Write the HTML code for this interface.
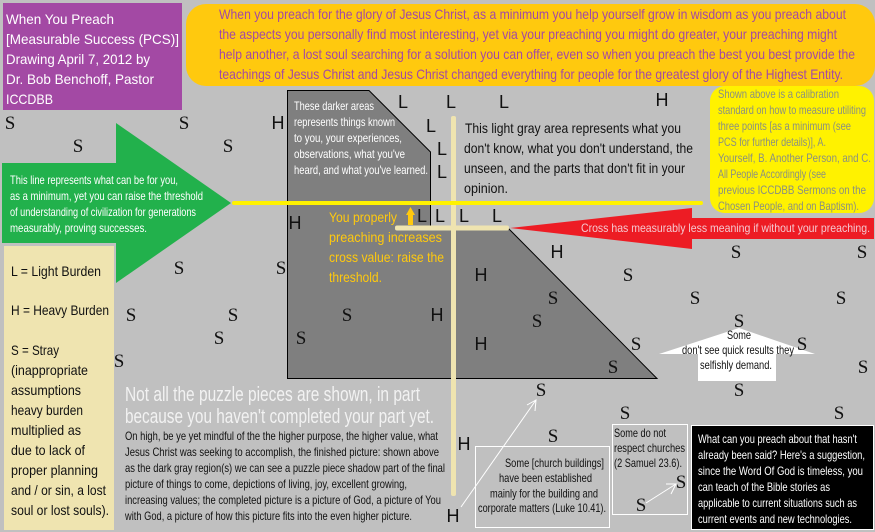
<!DOCTYPE html>
<html><head><meta charset="utf-8"><style>
html,body{margin:0;padding:0;background:#c0c0c0;width:875px;height:532px;overflow:hidden}
svg{display:block}
text{font-family:"Liberation Sans",sans-serif}
.s text{font-family:"Liberation Serif",serif;font-size:19px;fill:#111;text-anchor:middle}
.l text{font-size:18px;fill:#111;text-anchor:middle}
.t12{font-size:12px}.t14{font-size:14px}
</style></head><body>
<svg xmlns="http://www.w3.org/2000/svg" width="875" height="532" viewBox="0 0 875 532">
<rect width="875" height="532" fill="#c0c0c0"/>
<polygon points="287.5,90.5 369,90.5 430.5,152 430.5,228 508,228 657,378.5 287.5,378.5" fill="#7f7f7f" stroke="#000" stroke-width="1"/>
<rect x="3" y="3" width="179" height="107" fill="#a349a4"/>
<rect x="186" y="4" width="689" height="82" rx="20" fill="#ffc90e"/>
<rect x="710" y="86" width="164" height="127" rx="15" fill="#fff200"/>
<polygon points="2,163 116,163 116,123 231,203 116,283 116,243 2,243" fill="#22b14c"/>
<rect x="4" y="246" width="110" height="284" fill="#efe4b0"/>
<polygon points="510,228 692,208 692,218 874,218 874,239 692,239 692,249" fill="#ed1c24"/>
<rect x="451" y="116" width="5" height="380" rx="2" fill="#efe4b0"/>
<rect x="232" y="201" width="471" height="4" rx="2" fill="#fff200"/>
<rect x="395" y="225.500" width="114" height="5" rx="2" fill="#efe4b0"/>
<polygon points="410.500,207 415,215 413,215 413,225 408,225 408,215 406,215" fill="#ffc90e"/>
<polygon points="739,328 815,354 776,354 776,381 698,381 698,354 659,354" fill="#fff"/>
<rect x="475.500" y="446.500" width="134" height="81" fill="none" stroke="#fff"/>
<rect x="612.500" y="424.500" width="75" height="90" fill="none" stroke="#fff"/>
<rect x="691.500" y="425.500" width="182" height="104" fill="#000" stroke="#fff"/>
<g fill="none" stroke="#fff" stroke-width="1">
<path d="M461 507L536 400M527 405L536 400L535 411"/>
<path d="M646 503L676 484M666 484L676 484L671 494"/>
</g>

<g class="t14" fill="#fff">
<text x="6" y="24" textLength="108" lengthAdjust="spacingAndGlyphs">When You Preach</text>
<text x="6" y="44" textLength="173" lengthAdjust="spacingAndGlyphs">[Measurable Success (PCS)]</text>
<text x="6" y="64" textLength="144" lengthAdjust="spacingAndGlyphs">Drawing April 7, 2012 by</text>
<text x="6" y="84" textLength="148" lengthAdjust="spacingAndGlyphs">Dr. Bob Benchoff, Pastor</text>
<text x="6" y="104" textLength="47" lengthAdjust="spacingAndGlyphs">ICCDBB</text>
</g>
<g class="t14" fill="#a349a4">
<text x="219" y="19" textLength="627" lengthAdjust="spacingAndGlyphs">When you preach for the glory of Jesus Christ, as a minimum you help yourself grow in wisdom as you preach about</text>
<text x="219" y="39" textLength="618" lengthAdjust="spacingAndGlyphs">the aspects you personally find most interesting, yet via your preaching you might do greater, your preaching might</text>
<text x="219" y="59" textLength="636" lengthAdjust="spacingAndGlyphs">help another, a lost soul searching for a solution you can offer, even so when you preach the best you best provide the</text>
<text x="219" y="79" textLength="624" lengthAdjust="spacingAndGlyphs">teachings of Jesus Christ and Jesus Christ changed everything for people for the greatest glory of the Highest Entity.</text>
</g>
<g class="t12" fill="#fff">
<text x="294" y="110" textLength="80" lengthAdjust="spacingAndGlyphs">These darker areas</text>
<text x="294" y="126" textLength="101" lengthAdjust="spacingAndGlyphs">represents things known</text>
<text x="294" y="142" textLength="108" lengthAdjust="spacingAndGlyphs">to you, your experiences,</text>
<text x="294" y="158" textLength="111" lengthAdjust="spacingAndGlyphs">observations, what you've</text>
<text x="294" y="174" textLength="134" lengthAdjust="spacingAndGlyphs">heard, and what you've learned.</text>
<text x="10" y="184" textLength="168" lengthAdjust="spacingAndGlyphs">This line represents what can be for you,</text>
<text x="10" y="200" textLength="193" lengthAdjust="spacingAndGlyphs">as a minimum, yet you can raise the threshold</text>
<text x="10" y="216" textLength="186" lengthAdjust="spacingAndGlyphs">of understanding of civilization for generations</text>
<text x="10" y="232" textLength="137" lengthAdjust="spacingAndGlyphs">measurably, proving successes.</text>
<text x="698" y="443" textLength="159" lengthAdjust="spacingAndGlyphs">What can you preach about that hasn't</text>
<text x="698" y="459" textLength="167" lengthAdjust="spacingAndGlyphs">already been said? Here's a suggestion,</text>
<text x="698" y="475" textLength="165" lengthAdjust="spacingAndGlyphs">since the Word Of God is timeless, you</text>
<text x="698" y="491" textLength="132" lengthAdjust="spacingAndGlyphs">can teach of the Bible stories as</text>
<text x="698" y="507" textLength="159" lengthAdjust="spacingAndGlyphs">applicable to current situations such as</text>
<text x="698" y="523" textLength="154" lengthAdjust="spacingAndGlyphs">current events and new technologies.</text>
</g>
<g class="t14" fill="#111">
<text x="465" y="133" textLength="216" lengthAdjust="spacingAndGlyphs">This light gray area represents what you</text>
<text x="464" y="153" textLength="229" lengthAdjust="spacingAndGlyphs">don't know, what you don't understand, the</text>
<text x="464" y="173" textLength="221" lengthAdjust="spacingAndGlyphs">unseen, and the parts that don't fit in your</text>
<text x="464" y="193" textLength="44" lengthAdjust="spacingAndGlyphs">opinion.</text>
<text x="11" y="276" textLength="90" lengthAdjust="spacingAndGlyphs">L = Light Burden</text>
<text x="11" y="315" textLength="98" lengthAdjust="spacingAndGlyphs">H = Heavy Burden</text>
<text x="11" y="355" textLength="48" lengthAdjust="spacingAndGlyphs">S = Stray</text>
<text x="11" y="375" textLength="77" lengthAdjust="spacingAndGlyphs">(inappropriate</text>
<text x="11" y="395" textLength="70" lengthAdjust="spacingAndGlyphs">assumptions</text>
<text x="11" y="415" textLength="72" lengthAdjust="spacingAndGlyphs">heavy burden</text>
<text x="11" y="435" textLength="70" lengthAdjust="spacingAndGlyphs">multiplied as</text>
<text x="11" y="455" textLength="74" lengthAdjust="spacingAndGlyphs">due to lack of</text>
<text x="11" y="475" textLength="87" lengthAdjust="spacingAndGlyphs">proper planning</text>
<text x="11" y="495" textLength="95" lengthAdjust="spacingAndGlyphs">and / or sin, a lost</text>
<text x="11" y="515" textLength="98" lengthAdjust="spacingAndGlyphs">soul or lost souls).</text>
</g>
<g class="t14" fill="#ffc90e">
<text x="329" y="222" textLength="68" lengthAdjust="spacingAndGlyphs">You properly</text>
<text x="329" y="242" textLength="113" lengthAdjust="spacingAndGlyphs">preaching increases</text>
<text x="329" y="262" textLength="115" lengthAdjust="spacingAndGlyphs">cross value: raise the</text>
<text x="329" y="282" textLength="53" lengthAdjust="spacingAndGlyphs">threshold.</text>
</g>
<g class="t12" fill="#8a9080">
<text x="718" y="98" textLength="121" lengthAdjust="spacingAndGlyphs">Shown above is a calibration</text>
<text x="718" y="114" textLength="148" lengthAdjust="spacingAndGlyphs">standard on how to measure utiliting</text>
<text x="718" y="130" textLength="133" lengthAdjust="spacingAndGlyphs">three points [as a minimum (see</text>
<text x="718" y="146" textLength="108" lengthAdjust="spacingAndGlyphs">PCS for further details)], A.</text>
<text x="718" y="162" textLength="153" lengthAdjust="spacingAndGlyphs">Yourself, B. Another Person, and C.</text>
<text x="718" y="178" textLength="108" lengthAdjust="spacingAndGlyphs">All People Accordingly (see</text>
<text x="718" y="194" textLength="148" lengthAdjust="spacingAndGlyphs">previous ICCDBB Sermons on the</text>
<text x="718" y="210" textLength="141" lengthAdjust="spacingAndGlyphs">Chosen People, and on Baptism).</text>
</g>
<text class="t12" x="581" y="232" fill="#f5c8d0" textLength="289" lengthAdjust="spacingAndGlyphs">Cross has measurably less meaning if without your preaching.</text>
<g fill="#f2f2f2" font-size="20">
<text x="125" y="401" textLength="295" lengthAdjust="spacingAndGlyphs">Not all the puzzle pieces are shown, in part</text>
<text x="125" y="423" textLength="309" lengthAdjust="spacingAndGlyphs">because you haven't completed your part yet.</text>
</g>
<g class="t12" fill="#111">
<text x="125" y="440" textLength="313" lengthAdjust="spacingAndGlyphs">On high, be ye yet mindful of the the higher purpose, the higher value, what</text>
<text x="125" y="456" textLength="314" lengthAdjust="spacingAndGlyphs">Jesus Christ was seeking to accomplish, the finished picture: shown above</text>
<text x="125" y="472" textLength="320" lengthAdjust="spacingAndGlyphs">as the dark gray region(s) we can see a puzzle piece shadow part of the final</text>
<text x="125" y="488" textLength="282" lengthAdjust="spacingAndGlyphs">picture of things to come, depictions of living, joy, excellent growing,</text>
<text x="125" y="504" textLength="316" lengthAdjust="spacingAndGlyphs">increasing values; the completed picture is a picture of God, a picture of You</text>
<text x="125" y="520" textLength="287" lengthAdjust="spacingAndGlyphs">with God, a picture of how this picture fits into the even higher picture.</text>
<text x="505" y="467" textLength="99" lengthAdjust="spacingAndGlyphs">Some [church buildings]</text>
<text x="499" y="482" textLength="93" lengthAdjust="spacingAndGlyphs">have been established</text>
<text x="490" y="497.500" textLength="108" lengthAdjust="spacingAndGlyphs">mainly for the building and</text>
<text x="478" y="512" textLength="128" lengthAdjust="spacingAndGlyphs">corporate matters (Luke 10.41).</text>
<text x="614" y="437" textLength="52" lengthAdjust="spacingAndGlyphs">Some do not</text>
<text x="614" y="452" textLength="71" lengthAdjust="spacingAndGlyphs">respect churches</text>
<text x="614" y="467" textLength="68" lengthAdjust="spacingAndGlyphs">(2 Samuel 23.6).</text>
<text x="739" y="339" text-anchor="middle" textLength="24" lengthAdjust="spacingAndGlyphs">Some</text>
<text x="682" y="354" textLength="112" lengthAdjust="spacingAndGlyphs">don't see quick results they</text>
<text x="700" y="369" textLength="72" lengthAdjust="spacingAndGlyphs">selfishly demand.</text>
</g>

<g class="l">
<text x="403" y="108">L</text><text x="431" y="132">L</text><text x="451" y="108">L</text><text x="504" y="108">L</text>
<text x="442" y="155">L</text><text x="442" y="178">L</text>
<text x="422" y="222">L</text><text x="440" y="222">L</text><text x="464" y="222">L</text><text x="497" y="222">L</text>
<text x="662" y="106">H</text><text x="278" y="129">H</text><text x="295" y="229">H</text>
<text x="557" y="258">H</text><text x="481" y="281">H</text><text x="437" y="321">H</text><text x="481" y="350">H</text>
<text x="464" y="450">H</text><text x="453" y="522">H</text>
</g>
<g class="s">
<text x="10" y="129">S</text><text x="184" y="129">S</text><text x="78" y="152">S</text><text x="228" y="152">S</text>
<text x="736" y="258">S</text><text x="862" y="258">S</text><text x="179" y="274">S</text><text x="281" y="274">S</text>
<text x="131" y="321">S</text><text x="233" y="321">S</text><text x="219" y="344">S</text><text x="119" y="367">S</text>
<text x="347" y="321">S</text><text x="301" y="344">S</text>
<text x="628" y="281">S</text><text x="553" y="304">S</text><text x="695" y="304">S</text><text x="841" y="304">S</text>
<text x="537" y="327">S</text><text x="739" y="327">S</text><text x="636" y="350">S</text><text x="802" y="350">S</text>
<text x="613" y="373">S</text><text x="863" y="373">S</text><text x="541" y="396">S</text><text x="739" y="396">S</text>
<text x="625" y="419">S</text><text x="839" y="419">S</text><text x="553" y="442">S</text>
<text x="681" y="488">S</text><text x="641" y="511">S</text>
</g>
</svg>
</body></html>
